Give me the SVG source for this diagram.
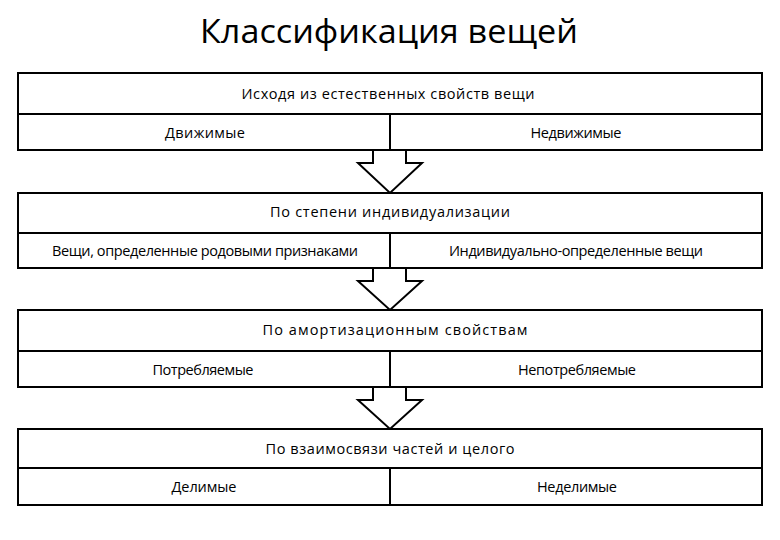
<svg xmlns="http://www.w3.org/2000/svg" width="780" height="540" viewBox="0 0 780 540">
<style>
.box{fill:#fff;stroke:#000;stroke-width:2}
.ln{stroke:#000;stroke-width:2;fill:none}
.arr{fill:#fff;stroke:#000;stroke-width:2;stroke-linejoin:miter}
text{font-family:"Open Sans","DejaVu Sans",sans-serif;fill:#000;text-anchor:middle}
.t{font-size:14.5px}
.title{font-size:33px}
</style>
<rect width="780" height="540" fill="#fff"/>
<text class="title" x="389" y="43" textLength="378" lengthAdjust="spacingAndGlyphs">Классификация вещей</text>
<g id="connectors">
<path class="arr" d="M373,150 V163 H358 L390,193 L422,163 H406 V150"/>
<path class="arr" d="M373,268 V281 H358 L390,310 L422,281 H406 V268"/>
<path class="arr" d="M373,387 V400 H358 L390,429 L422,400 H406 V387"/>
</g>
<g id="block1">
<rect class="box" x="18" y="73" width="744" height="77"/>
<line class="ln" x1="18" y1="114" x2="762" y2="114"/>
<line class="ln" x1="390" y1="114" x2="390" y2="150"/>
<text class="t" x="388" y="99" textLength="293" lengthAdjust="spacing">Исходя из естественных свойств вещи</text>
<text class="t" x="205" y="138" textLength="80" lengthAdjust="spacing">Движимые</text>
<text class="t" x="576" y="138" textLength="91" lengthAdjust="spacing">Недвижимые</text>
</g>
<g id="block2">
<rect class="box" x="18" y="193" width="744" height="75"/>
<line class="ln" x1="18" y1="233" x2="762" y2="233"/>
<line class="ln" x1="390" y1="233" x2="390" y2="268"/>
<text class="t" x="390" y="217" textLength="240" lengthAdjust="spacing">По степени индивидуализации</text>
<text class="t" x="205" y="256" textLength="306" lengthAdjust="spacing">Вещи, определенные родовыми признаками</text>
<text class="t" x="576" y="256" textLength="254" lengthAdjust="spacing">Индивидуально-определенные вещи</text>
</g>
<g id="block3">
<rect class="box" x="18" y="310" width="744" height="77"/>
<line class="ln" x1="18" y1="351" x2="762" y2="351"/>
<line class="ln" x1="390" y1="351" x2="390" y2="387"/>
<text class="t" x="395" y="335" textLength="265" lengthAdjust="spacing">По амортизационным свойствам</text>
<text class="t" x="203" y="375" textLength="101" lengthAdjust="spacing">Потребляемые</text>
<text class="t" x="577" y="375" textLength="118" lengthAdjust="spacing">Непотребляемые</text>
</g>
<g id="block4">
<rect class="box" x="18" y="429" width="744" height="76"/>
<line class="ln" x1="18" y1="468" x2="762" y2="468"/>
<line class="ln" x1="390" y1="468" x2="390" y2="505"/>
<text class="t" x="390" y="454" textLength="249" lengthAdjust="spacing">По взаимосвязи частей и целого</text>
<text class="t" x="204" y="492" textLength="65" lengthAdjust="spacing">Делимые</text>
<text class="t" x="577" y="492" textLength="80" lengthAdjust="spacing">Неделимые</text>
</g>
</svg>
